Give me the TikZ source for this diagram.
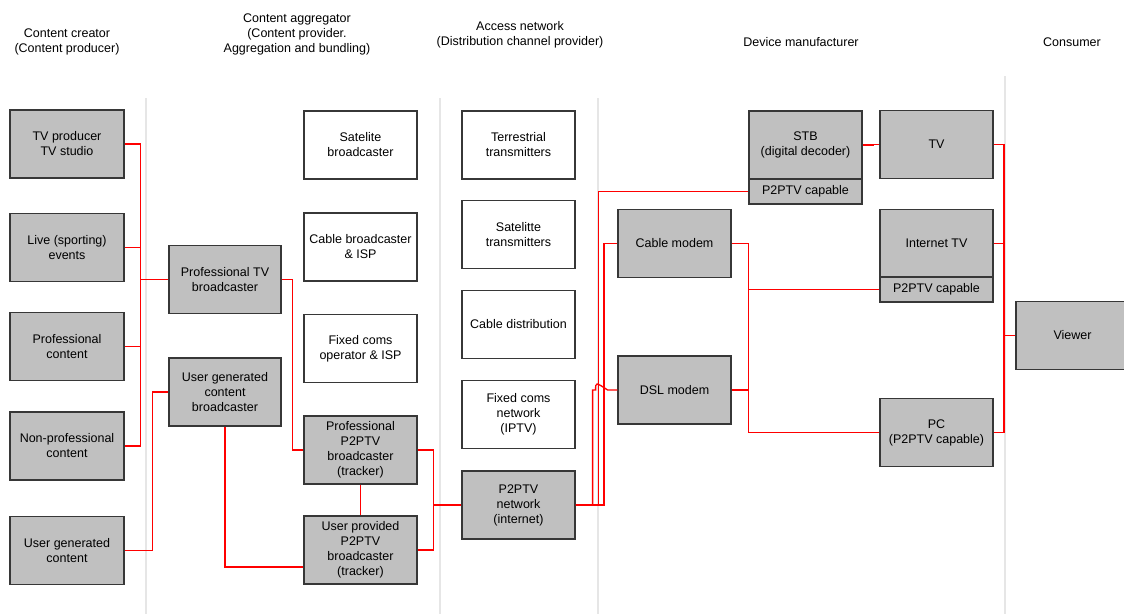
\documentclass[tikz,border=0pt]{standalone}
\usepackage{fontspec}
\setmainfont{Liberation Sans}
\usetikzlibrary{calc}
\definecolor{boxgray}{RGB}{192,192,192}
\definecolor{boxline}{RGB}{55,55,55}
\definecolor{sepgray}{RGB}{230,230,230}
\definecolor{linkred}{RGB}{255,0,0}
\tikzset{
  block/.style={draw=boxline, line width=1.2pt, fill=boxgray, minimum width=113pt,
    minimum height=68pt, align=center, inner sep=0pt,
    font=\fontsize{12.5}{15}\selectfont},
  wblock/.style={block, fill=white},
  subblock/.style={block, minimum height=25pt},
  hdr/.style={align=center, inner sep=0pt, font=\fontsize{12.5}{15}\selectfont},
  link/.style={color=linkred, line width=1.35pt},
  sep/.style={color=sepgray, line width=1.6pt}
}
\begin{document}
\begin{tikzpicture}[x=1pt, y=-1pt]
\useasboundingbox (0,0) rectangle (1124,614);

% column separators
\draw[sep] (146,98) -- (146,614);
\draw[sep] (440,98) -- (440,614);
\draw[sep] (598,98) -- (598,614);
\draw[sep] (1005,76) -- (1005,614);

% column headings
\node[hdr] (h1) at (67,42) {Content creator\\(Content producer)};
\node[hdr] (h2) at (297,34) {Content aggregator\\(Content provider.\\Aggregation and bundling)};
\node[hdr] (h3) at (520,35) {Access network\\(Distribution channel provider)};
\node[hdr] (h4) at (801,42) {Device manufacturer};
\node[hdr] (h5) at (1072,42) {Consumer};

% content creators
\node[block, minimum width=114pt] (tvp) at (67,144) {TV producer\\TV studio};
\node[block, minimum width=114pt] (live) at (67,247.5) {Live (sporting)\\events};
\node[block, minimum width=114pt] (prof) at (67,346.5) {Professional\\content};
\node[block, minimum width=114pt] (nonprof) at (67,446) {Non-professional\\content};
\node[block, minimum width=114pt] (ugc) at (67,550.5) {User generated\\content};

% aggregators
\node[block, minimum width=112pt] (ptvb) at (225,279.5) {Professional TV\\broadcaster};
\node[block, minimum width=112pt] (ugcb) at (225,392) {User generated\\content\\broadcaster};
\node[wblock] (satb) at (360.5,145) {Satelite\\broadcaster};
\node[wblock] (cabb) at (360.5,247) {Cable broadcaster\\\& ISP};
\node[wblock] (fixo) at (360.5,348.5) {Fixed coms\\operator \& ISP};
\node[block] (pp2p) at (360.5,450) {Professional\\P2PTV\\broadcaster\\(tracker)};
\node[block] (up2p) at (360.5,550) {User provided\\P2PTV\\broadcaster\\(tracker)};

% access networks
\node[wblock] (terr) at (518.5,145) {Terrestrial\\transmitters};
\node[wblock] (satt) at (518.5,234.5) {Satelitte\\transmitters};
\node[wblock] (cabd) at (518.5,324.5) {Cable distribution};
\node[wblock] (fixn) at (518.5,414.5) {Fixed coms\\network\\(IPTV)};
\node[block] (p2pn) at (518.5,505) {P2PTV\\network\\(internet)};

% devices
\node[block] (cmod) at (674.5,243.5) {Cable modem};
\node[block] (dsl) at (674.5,390) {DSL modem};
\node[block] (stb) at (805.5,145) {STB\\(digital decoder)};
\node[subblock] (stbp) at (805.5,191.5) {P2PTV capable};
\node[block] (tv) at (936.5,144.5) {TV};
\node[block] (itv) at (936.5,243.5) {Internet TV};
\node[subblock] (itvp) at (936.5,289.5) {P2PTV capable};
\node[block] (pc) at (936.5,432.5) {PC\\(P2PTV capable)};

% consumer
\node[block] (viewer) at (1072.5,335.5) {Viewer};

% bus joining the content creators
\coordinate (busA) at (140.5,0);
\draw[link] (tvp.east) -- (tvp.east -| busA) -- (nonprof.east -| busA) -- (nonprof.east);
\draw[link] (live.east) -- (live.east -| busA);
\draw[link] (prof.east) -- (prof.east -| busA);
\draw[link] (ptvb.west) -- (ptvb.west -| busA);
\draw[link] (ugc.east) -- ($(ugc.east)+(28,0)$) |- (ugcb.west);

% aggregators to P2PTV broadcasters
\draw[link] (ptvb.east) -- ($(ptvb.east)+(11,0)$) |- (pp2p.west);
\draw[link] (up2p.west) ++(0,17) -| (ugcb.south);
\draw[link] (pp2p.south) -- (up2p.north);

% P2PTV broadcasters to the P2PTV network
\coordinate (busB) at (433.5,0);
\draw[link] (pp2p.east) -- (pp2p.east -| busB) -- (up2p.east -| busB) -- (up2p.east);
\draw[link] (p2pn.west) -- (p2pn.west -| busB);

% P2PTV network to the devices
\draw[link] (p2pn.east) -- ($(p2pn.east)+(28.3,0)$) |- (cmod.west);
\draw[link] (p2pn.east) -- ($(p2pn.east)+(22.7,0)$) |- (stbp.west);
\coordinate (dslturn) at ($(p2pn.east)+(17,0)$);
\draw[link] (p2pn.east) -- (dslturn) -- (dslturn |- dsl.west)
  -- ++(3,0) .. controls ++(0,-8) and ++(-12,-8) .. ++(12,0) -- (dsl.west);

% modems to receiving devices
\coordinate (busC) at (748.5,0);
\draw[link] (cmod.east) -- (cmod.east -| busC) -- (pc.west -| busC) -- (pc.west);
\draw[link] (dsl.east) -- (dsl.east -| busC);
\draw[link] (itvp.west) -- (itvp.west -| busC);
\draw[link] (stb.east) -- ($(stb.east)+(11,0)$) |- (tv.west);

% receiving devices to the viewer
\coordinate (busD) at (1004,0);
\draw[link] (tv.east) -- (tv.east -| busD) -- (pc.east -| busD) -- (pc.east);
\draw[link] (itv.east) -- (itv.east -| busD);
\draw[link] (viewer.west) -- (viewer.west -| busD);
\end{tikzpicture}
\end{document}
